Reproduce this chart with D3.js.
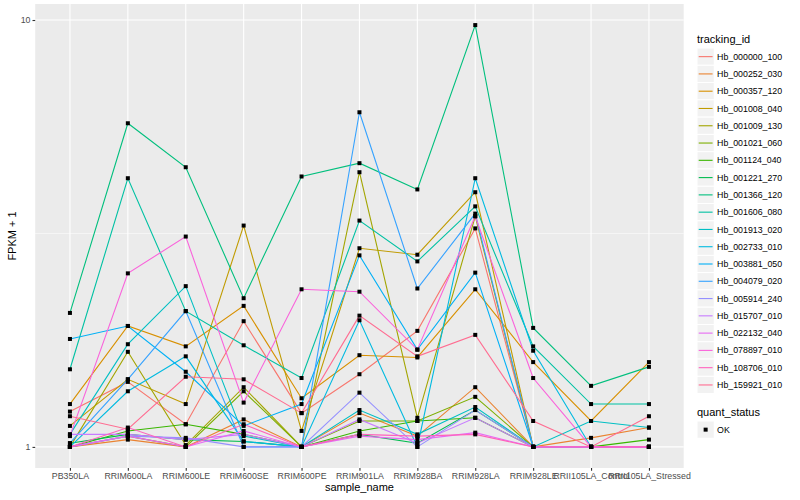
<!DOCTYPE html>
<html>
<head>
<meta charset="utf-8">
<script src="https://cdn.jsdelivr.net/npm/d3@7"></script>
<style>
  body { margin: 0; background: #fff; }
  text { font-family: "Liberation Sans", Arial, sans-serif; }
</style>
</head>
<body>
<svg width="800" height="500"></svg>
<script>
// Categories and series

const samples = ["PB350LA", "RRIM600LA", "RRIM600LE", "RRIM600SE", "RRIM600PE", "RRIM901LA",
  "RRIM928BA", "RRIM928LA", "RRIM928LE", "RRII105LA_Control", "RRII105LA_Stressed"];

const trackingIds = ["Hb_000000_100", "Hb_000252_030", "Hb_000357_120", "Hb_001008_040", "Hb_001009_130",
  "Hb_001021_060", "Hb_001124_040", "Hb_001221_270", "Hb_001366_120", "Hb_001606_080",
  "Hb_001913_020", "Hb_002733_010", "Hb_003881_050", "Hb_004079_020", "Hb_005914_240",
  "Hb_015707_010", "Hb_022132_040", "Hb_078897_010", "Hb_108706_010", "Hb_159921_010"];

// FPKM + 1, one row per tracking id, one value per sample
const fpkm = [
  [1.21, 1.42, 1.13, 1.97, 1.20, 1.48, 1.87, 3.25, 1.00, 1.00, 1.00],
  [1.00, 1.04, 1.00, 1.16, 1.00, 1.20, 1.06, 1.38, 1.00, 1.05, 1.11],
  [1.26, 1.92, 1.72, 2.14, 1.30, 1.64, 1.62, 2.34, 1.58, 1.15, 1.58],
  [1.12, 1.44, 1.26, 3.30, 1.09, 2.92, 2.82, 3.95, 1.00, 1.00, 1.00],
  [1.00, 1.67, 1.01, 1.38, 1.00, 4.40, 1.17, 3.47, 1.00, 1.00, 1.00],
  [1.00, 1.06, 1.00, 1.35, 1.00, 1.15, 1.15, 1.31, 1.00, 1.00, 1.00],
  [1.00, 1.09, 1.13, 1.07, 1.00, 1.09, 1.15, 1.17, 1.00, 1.00, 1.04],
  [1.02, 1.07, 1.04, 1.03, 1.00, 1.07, 1.02, 1.22, 1.00, 1.00, 1.00],
  [2.06, 5.73, 4.52, 2.23, 4.30, 4.62, 4.01, 9.73, 1.90, 1.39, 1.54],
  [1.52, 4.26, 2.08, 1.73, 1.45, 3.39, 2.72, 3.66, 1.72, 1.26, 1.26],
  [1.07, 1.74, 2.38, 1.06, 1.00, 1.22, 1.07, 1.24, 1.00, 1.15, 1.11],
  [1.00, 1.35, 1.63, 1.03, 1.00, 1.98, 1.00, 4.26, 1.68, 1.00, 1.00],
  [1.79, 1.92, 1.50, 1.12, 1.26, 2.81, 1.69, 2.56, 1.00, 1.00, 1.00],
  [1.02, 1.44, 2.08, 1.00, 1.00, 6.08, 2.35, 3.52, 1.00, 1.00, 1.00],
  [1.00, 1.06, 1.05, 1.00, 1.00, 1.34, 1.00, 1.22, 1.00, 1.00, 1.00],
  [1.07, 1.07, 1.04, 1.07, 1.00, 1.16, 1.02, 1.17, 1.00, 1.00, 1.00],
  [1.00, 1.06, 1.00, 1.09, 1.00, 1.06, 1.04, 1.08, 1.00, 1.00, 1.00],
  [1.06, 2.55, 3.11, 1.27, 2.34, 2.31, 1.69, 3.47, 1.45, 1.00, 1.00],
  [1.00, 1.11, 1.00, 1.13, 1.00, 1.07, 1.06, 1.07, 1.00, 1.00, 1.00],
  [1.18, 1.10, 1.46, 1.44, 1.20, 2.03, 1.63, 1.83, 1.15, 1.00, 1.18]
];

const colours = ["#F8766D", "#EA8331", "#D89000", "#C09B00", "#A3A500", "#7CAE00", "#39B600", "#00BB4E",
  "#00BF7D", "#00C1A3", "#00BFC4", "#00BAE0", "#00B0F6", "#35A2FF", "#9590FF", "#C77CFF",
  "#E76BF3", "#FA62DB", "#FF62BC", "#FF6C91"];

const yTicks = [1, 10];
const statusLevels = ["OK"];

// Layout

const panel = { left: 35.2, right: 683.7, top: 4, bottom: 468 };
const svg = d3.select("svg");

const x = d3.scalePoint()
  .domain(samples)
  .range([panel.left, panel.right])
  .padding(0.6);

const all = fpkm.flat();
const lmin = Math.log10(d3.min(all)), lmax = Math.log10(d3.max(all));
const pad = (lmax - lmin) * 0.05;
const y = d3.scaleLog()
  .domain([Math.pow(10, lmin - pad), Math.pow(10, lmax + pad)])
  .range([panel.bottom, panel.top]);

// Panel background and grid
svg.append("rect")
  .attr("x", panel.left).attr("y", panel.top)
  .attr("width", panel.right - panel.left).attr("height", panel.bottom - panel.top)
  .attr("fill", "#EBEBEB");

const grid = svg.append("g");
grid.selectAll("line.minor")
  .data([Math.sqrt(10)])
  .enter().append("line")
  .attr("x1", panel.left).attr("x2", panel.right)
  .attr("y1", d => y(d)).attr("y2", d => y(d))
  .attr("stroke", "#fff").attr("stroke-width", 0.55);
grid.selectAll("line.hmaj")
  .data(yTicks)
  .enter().append("line")
  .attr("x1", panel.left).attr("x2", panel.right)
  .attr("y1", d => y(d)).attr("y2", d => y(d))
  .attr("stroke", "#fff").attr("stroke-width", 1.1);
grid.selectAll("line.vmaj")
  .data(samples)
  .enter().append("line")
  .attr("y1", panel.top).attr("y2", panel.bottom)
  .attr("x1", d => x(d)).attr("x2", d => x(d))
  .attr("stroke", "#fff").attr("stroke-width", 1.1);

// Lines
const line = d3.line()
  .x((d, i) => x(samples[i]))
  .y(d => y(d));

svg.append("g").selectAll("path")
  .data(fpkm)
  .enter().append("path")
  .attr("d", line)
  .attr("fill", "none")
  .attr("stroke", (d, i) => colours[i])
  .attr("stroke-width", 1.1);

// Points
const pts = [];
fpkm.forEach(row => row.forEach((v, i) => pts.push([samples[i], v])));
svg.append("g").selectAll("rect")
  .data(pts)
  .enter().append("rect")
  .attr("x", d => x(d[0]) - 2)
  .attr("y", d => y(d[1]) - 2)
  .attr("width", 4).attr("height", 4)
  .attr("fill", "#000");

// Axes
const xAxis = svg.append("g")
  .attr("transform", `translate(0,${panel.bottom})`)
  .call(d3.axisBottom(x).tickSize(2.7).tickPadding(2));
const yAxis = svg.append("g")
  .attr("transform", `translate(${panel.left},0)`)
  .call(d3.axisLeft(y).tickValues(yTicks).tickFormat(d3.format("d")).tickSize(2.7).tickPadding(2));
[xAxis, yAxis].forEach(a => {
  a.select(".domain").remove();
  a.selectAll(".tick line").attr("stroke", "#333").attr("stroke-width", 1.1);
  a.selectAll(".tick text").attr("fill", "#4D4D4D").style("font-size", "8.8px")
    .style("font-family", "'Liberation Sans', Arial, sans-serif");
});

svg.append("text")
  .attr("x", (panel.left + panel.right) / 2).attr("y", 491)
  .attr("text-anchor", "middle").style("font-size", "11px")
  .text("sample_name");
svg.append("text")
  .attr("transform", `translate(16,${(panel.top + panel.bottom) / 2}) rotate(-90)`)
  .attr("text-anchor", "middle").style("font-size", "11px")
  .text("FPKM + 1");

// Legends
const keySize = 17.28;
const lg = svg.append("g").attr("transform", "translate(697,0)");
lg.append("text").attr("x", 0).attr("y", 43).style("font-size", "11px").text("tracking_id");
const keys = lg.selectAll("g.key")
  .data(trackingIds)
  .enter().append("g")
  .attr("transform", (d, i) => `translate(0,${48 + i * keySize})`);
keys.append("rect")
  .attr("width", keySize).attr("height", keySize)
  .attr("fill", "#F2F2F2").attr("stroke", "#fff").attr("stroke-width", 1);
keys.append("line")
  .attr("x1", 1.7).attr("x2", keySize - 1.7)
  .attr("y1", keySize / 2).attr("y2", keySize / 2)
  .attr("stroke", (d, i) => colours[i]).attr("stroke-width", 1.1);
keys.append("text")
  .attr("x", keySize + 2.8).attr("y", keySize / 2)
  .attr("dy", "0.35em").style("font-size", "8.8px")
  .text(d => d);

const sg = svg.append("g").attr("transform", "translate(697,0)");
sg.append("text").attr("x", 0).attr("y", 416).style("font-size", "11px").text("quant_status");
const skeys = sg.selectAll("g.key")
  .data(statusLevels)
  .enter().append("g")
  .attr("transform", (d, i) => `translate(0,${421 + i * keySize})`);
skeys.append("rect")
  .attr("width", keySize).attr("height", keySize)
  .attr("fill", "#F2F2F2").attr("stroke", "#fff");
skeys.append("rect")
  .attr("x", keySize / 2 - 2).attr("y", keySize / 2 - 2)
  .attr("width", 4).attr("height", 4).attr("fill", "#000");
skeys.append("text")
  .attr("x", keySize + 2.8).attr("y", keySize / 2)
  .attr("dy", "0.35em").style("font-size", "8.8px")
  .text(d => d);
</script>
</body>
</html>
